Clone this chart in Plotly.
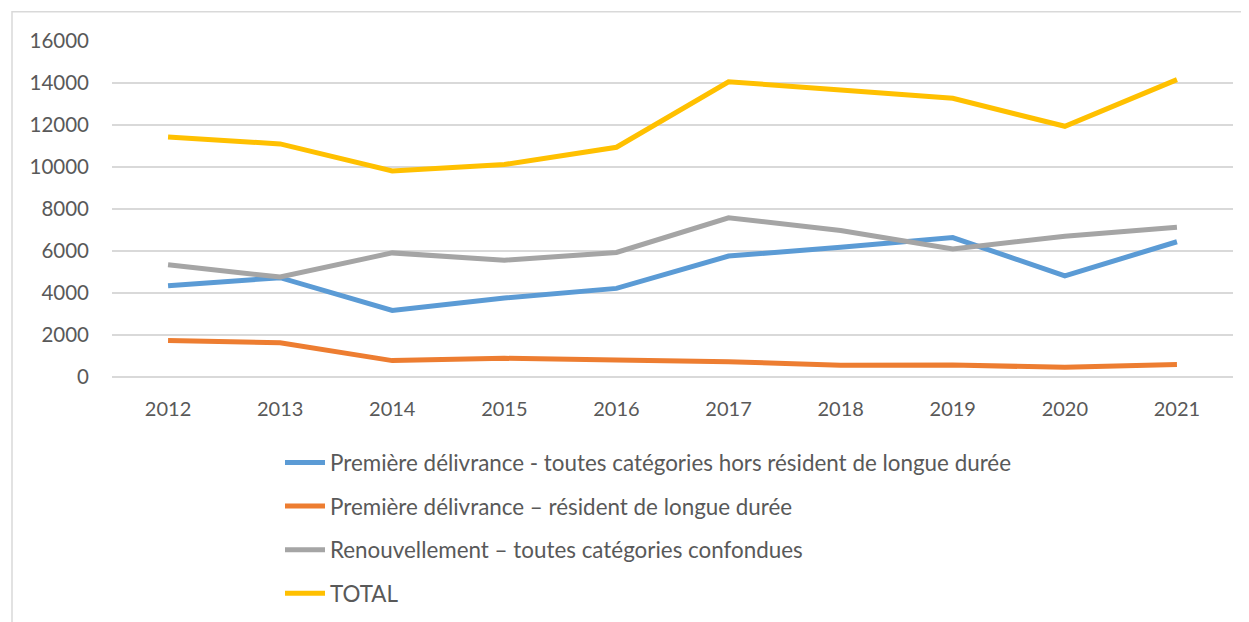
import plotly.graph_objects as go

years = ["2012", "2013", "2014", "2015", "2016", "2017", "2018", "2019", "2020", "2021"]
premiere_hors_rld = [4340, 4730, 3170, 3760, 4220, 5760, 6180, 6640, 4820, 6440]
premiere_rld = [1740, 1630, 780, 890, 810, 730, 555, 570, 460, 590]
renouvellement = [5340, 4760, 5910, 5560, 5930, 7580, 6980, 6100, 6700, 7130]
total = [11430, 11100, 9810, 10120, 10940, 14060, 13670, 13270, 11940, 14160]

names = [
    "Première délivrance - toutes catégories hors résident de longue durée",
    "Première délivrance – résident de longue durée",
    "Renouvellement – toutes catégories confondues",
    "TOTAL",
]
colors = ["#5B9BD5", "#ED7D31", "#A5A5A5", "#FFC000"]
series = [premiere_hors_rld, premiere_rld, renouvellement, total]

FONT = "Lato"
TXT = "#595959"

fig = go.Figure()
for i, (nm, col, vals) in enumerate(zip(names, colors, series)):
    fig.add_trace(go.Scatter(
        x=years, y=vals, name=nm, mode="lines",
        line=dict(color=col, width=5),
        legendgroup=f"g{i}",
    ))

# page has an 8px body margin: figure coords = page coords - 8
OFF = 8
W, H = 1249 - OFF, 622 - OFF
L = 112 - OFF
T = 40.7 - OFF
plot_right = 1233 - OFF
plot_bottom = 377 - OFF
R = W - plot_right
B = H - plot_bottom
pw = plot_right - L
ph = plot_bottom - T

fig.update_layout(
    width=W, height=H,
    margin=dict(l=L, r=R, t=T, b=B, pad=0, autoexpand=False),
    paper_bgcolor="white", plot_bgcolor="white",
    font=dict(family=FONT, size=20, color=TXT),
    showlegend=True,
    legend=dict(
        x=(280 - OFF - L) / pw, xanchor="left",
        y=(plot_bottom - (441.5 - OFF)) / ph, yanchor="top",
        orientation="v",
        traceorder="grouped",
        tracegroupgap=11.5,
        font=dict(family=FONT, size=22.4, color=TXT),
        bgcolor="rgba(0,0,0,0)",
        itemwidth=40,
    ),
    xaxis=dict(
        type="category",
        range=[-0.5, 9.5],
        showgrid=False, showline=False, zeroline=False,
        ticks="", tickfont=dict(family=FONT, size=20, color=TXT),
        ticklabelstandoff=18,
    ),
    yaxis=dict(
        range=[0, 16000],
        tickvals=[0, 2000, 4000, 6000, 8000, 10000, 12000, 14000, 16000],
        ticktext=["0", "2000", "4000", "6000", "8000", "10000", "12000", "14000", "16000"],
        showgrid=True, gridcolor="#D9D9D9", gridwidth=1.5,
        zeroline=True, zerolinecolor="#D9D9D9", zerolinewidth=1.5,
        showline=False, ticks="",
        tickfont=dict(family=FONT, size=20.5, color=TXT),
        ticklabelstandoff=22,
    ),
    shapes=[dict(
        type="rect", xref="paper", yref="paper",
        x0=(12 - OFF - L) / pw, x1=(1320 - L) / pw,
        y0=(plot_bottom - 700) / ph, y1=(plot_bottom - (11.5 - OFF)) / ph,
        line=dict(color="#D9D9D9", width=1.5),
        fillcolor="rgba(0,0,0,0)", layer="below",
    )],
)

fig.write_html("out.html")
